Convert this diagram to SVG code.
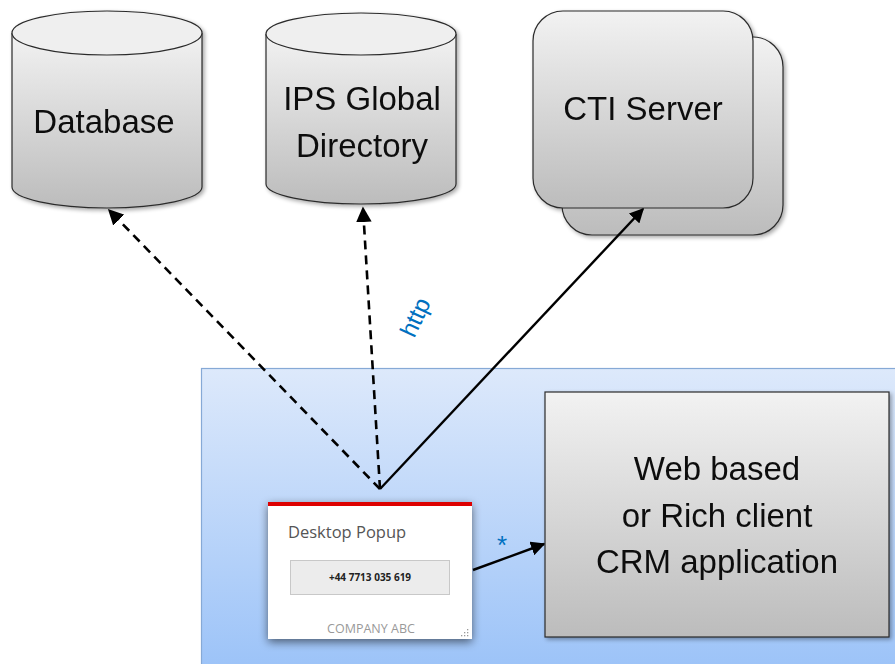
<svg xmlns="http://www.w3.org/2000/svg" width="895" height="664" viewBox="0 0 895 664">
  <style>
    .lbl { font-family: "Liberation Sans", Arial, sans-serif; fill: #111; text-anchor: middle; }
    .shape { stroke: #2b2b2b; stroke-width: 1.2; }
    .dash { fill: none; stroke: #000; stroke-width: 2.6; stroke-dasharray: 9 6; }
    .solid { fill: none; stroke: #000; stroke-width: 2.4; }
    .note { font-family: "Liberation Sans", Arial, sans-serif; fill: #0070c0; }
  </style>
  <defs>
    <linearGradient id="greyFill" x1="0" y1="0" x2="0" y2="1">
      <stop offset="0" stop-color="#f2f2f2"/>
      <stop offset="1" stop-color="#bcbcbc"/>
    </linearGradient>
    <linearGradient id="blueFill" x1="0" y1="0" x2="0" y2="1">
      <stop offset="0" stop-color="#dde9fb"/>
      <stop offset="1" stop-color="#9cc3f8"/>
    </linearGradient>
    <filter id="soft" x="-20%" y="-20%" width="140%" height="140%">
      <feGaussianBlur in="SourceAlpha" stdDeviation="5"/>
      <feOffset dx="0" dy="3"/>
      <feComponentTransfer><feFuncA type="linear" slope="0.55"/></feComponentTransfer>
      <feMerge><feMergeNode/><feMergeNode in="SourceGraphic"/></feMerge>
    </filter>
    <filter id="drop" x="-10%" y="-10%" width="130%" height="130%">
      <feGaussianBlur in="SourceAlpha" stdDeviation="2"/>
      <feOffset dx="2" dy="2"/>
      <feComponentTransfer><feFuncA type="linear" slope="0.35"/></feComponentTransfer>
      <feMerge><feMergeNode/><feMergeNode in="SourceGraphic"/></feMerge>
    </filter>
    <marker id="head" viewBox="0 0 10 10" refX="9" refY="5" markerWidth="6" markerHeight="6" orient="auto" markerUnits="strokeWidth">
      <path d="M0,0 L10,5 L0,10 z" fill="#000"/>
    </marker>
  </defs>

  <!-- client workstation area -->
  <g id="workstation">
    <rect x="201.5" y="368.5" width="700" height="300" fill="url(#blueFill)" stroke="#86a9d6" stroke-width="1.2"/>
  </g>

  <g id="database" filter="url(#drop)">
    <path class="shape" d="M12,33 L12,187 A95,21 0 0 0 202,187 L202,33" fill="url(#greyFill)"/>
    <ellipse class="shape" cx="107" cy="33" rx="95" ry="22" fill="#efefef"/>
    <text class="lbl" x="104" y="133" font-size="33">Database</text>
  </g>

  <g id="directory" filter="url(#drop)">
    <path class="shape" d="M266,34 L266,184 A95,20 0 0 0 456,184 L456,34" fill="url(#greyFill)"/>
    <ellipse class="shape" cx="361" cy="34" rx="95" ry="21" fill="#efefef"/>
    <text class="lbl" x="362" y="110" font-size="33">IPS Global</text>
    <text class="lbl" x="362" y="157" font-size="33">Directory</text>
  </g>

  <g id="cti-server" filter="url(#drop)">
    <rect class="shape" x="562" y="37" width="221" height="198" rx="30" fill="url(#greyFill)"/>
    <rect class="shape" x="533" y="11" width="220" height="197" rx="30" fill="url(#greyFill)"/>
    <text class="lbl" x="643" y="120" font-size="33">CTI Server</text>
  </g>

  <g id="crm" filter="url(#drop)">
    <rect class="shape" x="545" y="392" width="344" height="245" fill="url(#greyFill)"/>
    <text class="lbl" x="717" y="480" font-size="33">Web based</text>
    <text class="lbl" x="717" y="527" font-size="33">or Rich client</text>
    <text class="lbl" x="717" y="573" font-size="33">CRM application</text>
  </g>

  <g id="popup">
    <rect x="268" y="502" width="204" height="137" fill="#ffffff" filter="url(#soft)"/>
    <rect x="268" y="502" width="204" height="4" fill="#dd0000"/>
    <text x="288" y="538" font-family="'Open Sans', 'Liberation Sans', sans-serif" font-size="16.5" fill="#555">Desktop Popup</text>
    <rect x="290.5" y="560.5" width="159" height="34" fill="#ececec" stroke="#c8c8c8"/>
    <text x="370" y="581" font-family="'Open Sans', 'Liberation Sans', sans-serif" font-size="10" font-weight="bold" fill="#222" text-anchor="middle">+44 7713 035 619</text>
    <text x="371" y="633" font-family="'Open Sans', 'Liberation Sans', sans-serif" font-size="12.5" fill="#999" text-anchor="middle">COMPANY ABC</text>
    <g fill="#999">
      <rect x="467" y="629" width="1.3" height="1.3"/>
      <rect x="464" y="632" width="1.3" height="1.3"/>
      <rect x="467" y="632" width="1.3" height="1.3"/>
      <rect x="461" y="635" width="1.3" height="1.3"/>
      <rect x="464" y="635" width="1.3" height="1.3"/>
      <rect x="467" y="635" width="1.3" height="1.3"/>
    </g>
  </g>

  <g id="connectors">
    <line class="dash" x1="380" y1="489" x2="109" y2="210" marker-end="url(#head)"/>
    <line class="dash" x1="380" y1="489" x2="363" y2="208" marker-end="url(#head)"/>
    <line class="solid" x1="380" y1="489" x2="643" y2="209" marker-end="url(#head)"/>
    <line class="solid" x1="473" y1="570" x2="544" y2="544" marker-end="url(#head)"/>
    <text class="note" font-size="24" transform="translate(417,318) rotate(-65)" text-anchor="middle" dominant-baseline="middle">http</text>
    <text class="note" x="502" y="554" font-size="26" text-anchor="middle">*</text>
  </g>
</svg>
